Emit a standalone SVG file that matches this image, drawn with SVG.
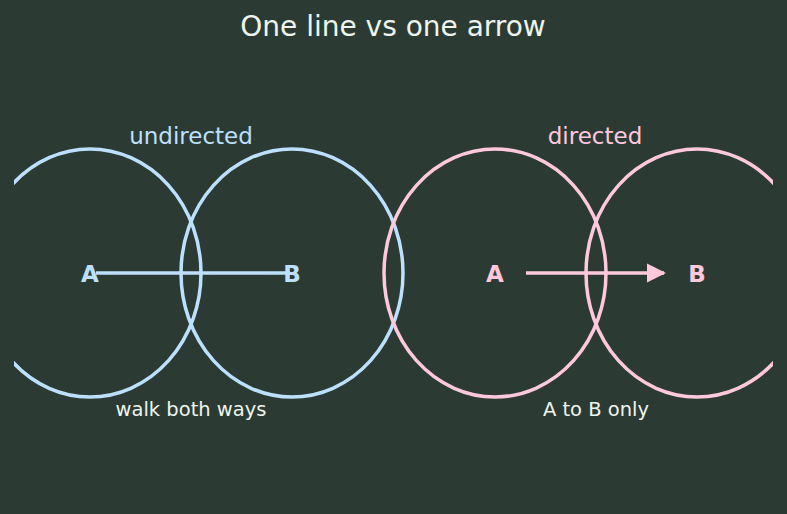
<svg xmlns="http://www.w3.org/2000/svg" width="787" height="514" viewBox="0 0 787 514">
<defs>
<style>
.t{font-family:"DejaVu Sans",sans-serif;text-anchor:middle}
.u{stroke:#bde0fe;fill:none;stroke-width:3.5}
.d{stroke:#ffc8dd;fill:none;stroke-width:3.5}
.lbl{font-family:"DejaVu Sans",sans-serif;font-weight:bold;font-size:23px;text-anchor:middle}
</style>
<clipPath id="c"><rect x="14" y="0" width="759" height="514"/></clipPath>
<marker id="ah" viewBox="0 0 10 10" refX="9" refY="5" markerWidth="5.5" markerHeight="5.5" markerUnits="strokeWidth" orient="auto"><path d="M0,0 L10,5 L0,10 z" fill="#ffc8dd"/></marker>
</defs>
<rect width="787" height="514" fill="#2b3b34"/>
<text class="t" x="393" y="36" font-size="28" fill="#eef5ee">One line vs one arrow</text>
<text class="t" x="191" y="144" font-size="23" fill="#bde0fe">undirected</text>
<text class="t" x="595" y="144" font-size="23" fill="#ffc8dd">directed</text>
<text class="t" x="191" y="416" font-size="19.5" fill="#eef5ee">walk both ways</text>
<text class="t" x="596" y="416" font-size="19.5" fill="#eef5ee">A to B only</text>
<g clip-path="url(#c)">
<g id="uA"><ellipse class="u" cx="90" cy="273" rx="111" ry="124"/><text class="lbl" x="90" y="281.5" fill="#bde0fe">A</text></g>
<g id="uB"><ellipse class="u" cx="292" cy="273" rx="111" ry="124"/><text class="lbl" x="292" y="281.5" fill="#bde0fe">B</text></g>
<g id="dA"><ellipse class="d" cx="495" cy="273" rx="111" ry="124"/><text class="lbl" x="495" y="281.5" fill="#ffc8dd">A</text></g>
<g id="dB"><ellipse class="d" cx="697" cy="273" rx="111" ry="124"/><text class="lbl" x="697" y="281.5" fill="#ffc8dd">B</text></g>
</g>
<g id="connectors">
<line class="u" x1="96" y1="273" x2="290" y2="273"/>
<line class="d" x1="526" y1="273" x2="664" y2="273" marker-end="url(#ah)"/>
</g>
</svg>
